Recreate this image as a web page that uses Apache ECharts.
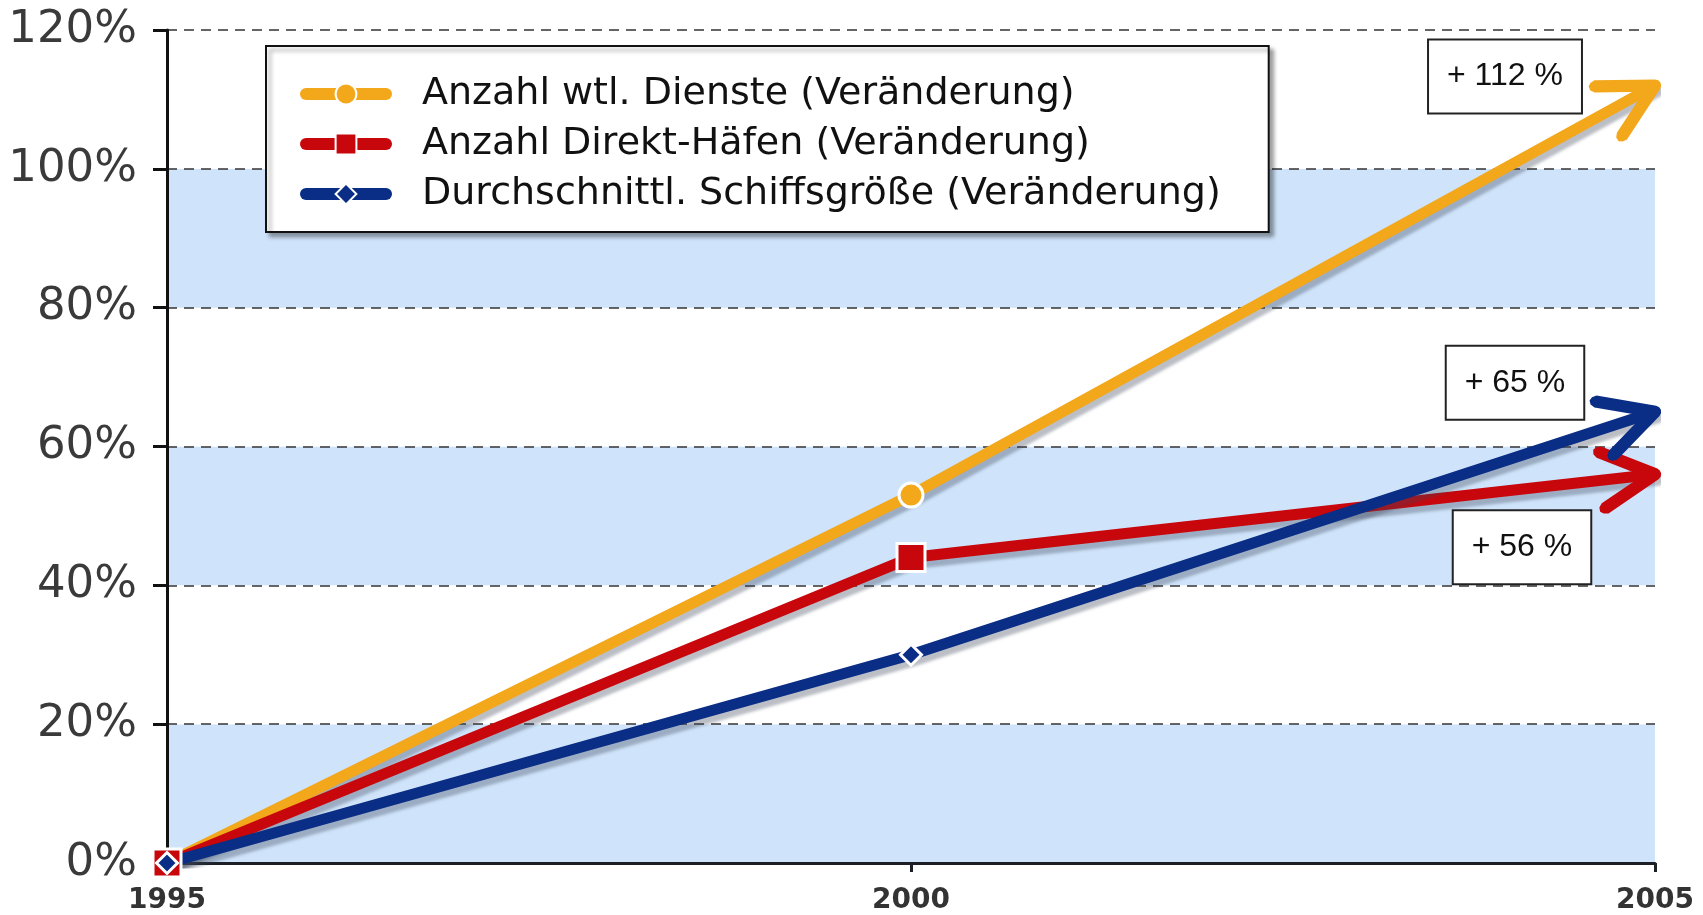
<!DOCTYPE html>
<html>
<head>
<meta charset="utf-8">
<title>Veränderung 1995 - 2005</title>
<script src="https://cdn.jsdelivr.net/npm/echarts@6/dist/echarts.min.js"></script>
<style>
  html, body { margin: 0; padding: 0; background: #fff; }
  #chart { width: 1703px; height: 915px; }
</style>
</head>
<body>
<div id="chart"></div>
<script>
// Daten (Veränderung in % gegenüber 1995)
const years = ["1995", "2000", "2005"];
const seriesNames = [
  "Anzahl wtl. Dienste (Veränderung)",
  "Anzahl Direkt-Häfen (Veränderung)",
  "Durchschnittl. Schiffsgröße (Veränderung)",
];
const dienste = [0, 53, 112];
const haefen = [0, 44, 56];
const schiffsgroesse = [0, 30, 65];

// offene Pfeilspitze, Spitze liegt im Mittelpunkt des Symbols
const arrowHead =
  "path://M-5.3,-2.8 L-3,-5.2 L0,-6 L3,-5.2 L5.3,-2.8 L33.3,50.2 L33,55 L30.8,58.3 L26.5,58.6 L22.7,55.8 L0,12.8 " +
  "L-22.7,55.8 L-26.5,58.6 L-30.8,58.3 L-33,55 L-33.3,50.2 Z M-58.3,-58.3 L-58.2,-58.3 M58.3,58.3 L58.2,58.3";

function makeSeries(name, values, color, symbol, symbolSize, boxOffset) {
  const last = values.length - 1;
  return {
    name: name,
    type: "line",
    data: values.map((v, i) => (i === last ? { value: v, symbol: "none" } : v)),
    symbol: symbol,
    symbolSize: symbolSize,
    showAllSymbol: true,
    lineStyle: {
      color: color,
      width: 11,
      cap: "round",
      join: "round",
      shadowColor: "rgba(60,70,90,0.35)",
      shadowBlur: 3,
      shadowOffsetX: 3,
      shadowOffsetY: 6,
    },
    itemStyle: {
      color: color,
      borderColor: "#fff",
      borderWidth: 3,
    },
    markLine: {
      silent: true,
      symbol: ["none", arrowHead],
      symbolSize: 118,
      label: { show: false },
      lineStyle: { color: color, width: 0, type: "solid" },
      data: [[{ coord: [years[last - 1], values[last - 1]] }, { coord: [years[last], values[last]] }]],
    },
    markPoint: {
      silent: true,
      symbol: "circle",
      symbolSize: 1,
      itemStyle: { color: "rgba(0,0,0,0)" },
      label: {
        show: true,
        position: "inside",
        offset: boxOffset,
        formatter: "+ " + values[last] + " %",
        fontFamily: "Liberation Sans",
        fontSize: 32,
        lineHeight: 32,
        color: "#111",
        backgroundColor: "#fff",
        borderColor: "#222",
        borderWidth: 2,
        padding: [20, 18],
      },
      data: [{ coord: [years[last], values[last]] }],
    },
  };
}

const chart = echarts.init(document.getElementById("chart"));
chart.setOption({
  animation: false,
  backgroundColor: "#fff",
  grid: { left: 167, right: 48, top: 30, bottom: 52 },
  legend: {
    data: seriesNames,
    orient: "vertical",
    left: 266,
    top: 46,
    itemWidth: 80,
    itemHeight: 26,
    itemGap: 12,
    padding: [29, 48, 19, 34],
    backgroundColor: "#fff",
    borderColor: "#111",
    borderWidth: 2,
    shadowColor: "rgba(0,0,0,0.35)",
    shadowBlur: 4,
    shadowOffsetX: 4,
    shadowOffsetY: 4,
    lineStyle: { width: 12, cap: "round" },
    textStyle: {
      fontFamily: "DejaVu Sans",
      fontSize: 38,
      color: "#111",
      padding: [0, 0, 0, 31],
    },
  },
  xAxis: {
    type: "category",
    data: years,
    boundaryGap: false,
    axisLine: { lineStyle: { color: "#1c1f26", width: 3 } },
    axisTick: { show: true, length: 9, lineStyle: { width: 3, color: "#1c1f26" } },
    axisLabel: {
      fontFamily: "DejaVu Sans",
      fontWeight: "bold",
      fontSize: 28,
      color: "#333",
      margin: 24,
    },
    splitLine: { show: false },
  },
  yAxis: {
    type: "value",
    min: 0,
    max: 120,
    interval: 20,
    axisLine: { show: true, lineStyle: { color: "#111", width: 3 } },
    axisTick: { show: true, length: 14, lineStyle: { width: 3, color: "#111" } },
    axisLabel: {
      formatter: "{value}%",
      fontFamily: "DejaVu Sans",
      fontSize: 45,
      color: "#3a3a3a",
      margin: 30,
    },
    splitLine: { show: true, lineStyle: { color: "#333", width: 1.5, type: [10, 7] } },
    splitArea: { show: true, areaStyle: { color: ["#cfe4fa", "#ffffff"] } },
  },
  series: [
    makeSeries(seriesNames[0], dienste, "#f3a71b", "circle", 24, [-150, -9]),
    makeSeries(seriesNames[1], haefen, "#c8070d", "rect", 28, [-133, 73]),
    makeSeries(seriesNames[2], schiffsgroesse, "#0a2d86", "diamond", 21, [-140, -29]),
  ],
});
</script>
</body>
</html>
